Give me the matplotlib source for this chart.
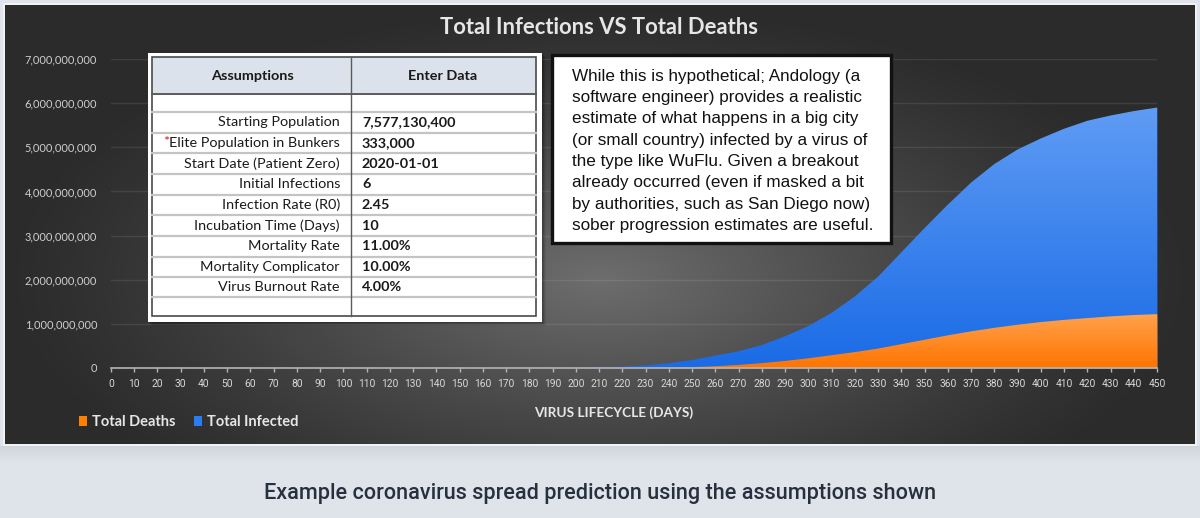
import numpy as np
import matplotlib
matplotlib.use('Agg')
import matplotlib.pyplot as plt
from matplotlib.patches import Rectangle, PathPatch
from matplotlib.colors import LinearSegmentedColormap

# ---------------- data ----------------
days = list(range(0, 451, 10))
total_infected_bn = [0, 0, 0, 0, 0, 0, 0, 0, 0, 0,
                     0, 0, 0, 0, 0, 0, 0, 0, 0, 0.002,
                     0.005, 0.012, 0.03, 0.06, 0.11, 0.18, 0.28, 0.38, 0.52, 0.72,
                     0.95, 1.25, 1.62, 2.07, 2.62, 3.17, 3.70, 4.20, 4.62, 4.95,
                     5.20, 5.42, 5.60, 5.72, 5.82, 5.90]
total_deaths_bn = [0, 0, 0, 0, 0, 0, 0, 0, 0, 0,
                   0, 0, 0, 0, 0, 0, 0, 0, 0, 0,
                   0, 0, 0.002, 0.005, 0.01, 0.02, 0.04, 0.07, 0.11, 0.16,
                   0.22, 0.29, 0.36, 0.44, 0.54, 0.64, 0.74, 0.83, 0.91, 0.98,
                   1.04, 1.09, 1.13, 1.17, 1.20, 1.22]
y_ticks = [0, 1e9, 2e9, 3e9, 4e9, 5e9, 6e9, 7e9]
x_ticks = list(range(0, 451, 10))

table_labels = ["Starting Population", "Elite Population in Bunkers", "Start Date (Patient Zero)",
                "Initial Infections", "Infection Rate (R0)", "Incubation Time (Days)",
                "Mortality Rate", "Mortality Complicator", "Virus Burnout Rate"]
table_values = ["7,577,130,400", "333,000", "2020-01-01", "6", "2.45", "10",
                "11.00%", "10.00%", "4.00%"]
note_lines = ["While this is hypothetical; Andology (a",
              "software engineer) provides a realistic",
              "estimate of what happens in a big city",
              "(or small country) infected by a virus of",
              "the type like WuFlu. Given a breakout",
              "already occurred (even if masked a bit",
              "by authorities, such as San Diego now)",
              "sober progression estimates are useful."]

infected = np.array(total_infected_bn) * 1e9
deaths = np.array(total_deaths_bn) * 1e9

W, H = 1200, 518
fig = plt.figure(figsize=(12, 5.18), dpi=100)
fig.patch.set_facecolor('#dfe4ea')

def fx(px):
    return px / W

def fy(py):
    return 1 - py / H

# ---------------- background panel ----------------
bg = fig.add_axes([0, 0, 1, 1], zorder=0)
bg.set_xlim(0, W); bg.set_ylim(H, 0); bg.axis('off')
for i in range(16):
    a = 0.10 * (1 - i / 16)
    bg.add_patch(Rectangle((0, 446 + i), W, 1, facecolor='#4a5360', alpha=a, lw=0))
bg.add_patch(Rectangle((3, 3), 1194, 443, facecolor='#f2f2f2', lw=0))

pan = fig.add_axes([fx(5), fy(444), fx(1190), 439 / H], zorder=1)
pan.axis('off')
gx = np.linspace(-1, 1, 600)
gy = np.linspace(-1, 1, 260)
GX, GY = np.meshgrid(gx, gy)
r = np.sqrt((GX / 1.0) ** 2 + ((GY - 0.25) / 1.25) ** 2)
val = np.clip(1 - r, 0, 1) ** 1.2
c_out = np.array([0.17, 0.17, 0.17])
c_in = np.array([0.43, 0.43, 0.43])
img = c_out[None, None, :] + (c_in - c_out)[None, None, :] * val[:, :, None]
pan.imshow(img, aspect='auto', extent=[0, 1, 0, 1], origin='upper')
pan.set_xlim(0, 1); pan.set_ylim(0, 1)

# ---------------- main chart ----------------
ax = fig.add_axes([fx(111), fy(368), (1157 - 111) / W, (368 - 59) / H], zorder=3)
ax.set_facecolor('none')

def grad_fill(x, y, c_bot, c_top, z, label):
    poly = ax.fill_between(x, 0, y, color=c_bot, lw=0, zorder=z, label=label)
    cmap = LinearSegmentedColormap.from_list('g', [c_bot, c_top])
    grad = np.linspace(0, 1, 256).reshape(-1, 1)
    im = ax.imshow(grad, extent=[x[0], x[-1], 0, max(y)], origin='lower',
                   aspect='auto', cmap=cmap, zorder=z + 0.1, interpolation='bilinear')
    patch = PathPatch(poly.get_paths()[0], transform=ax.transData,
                      facecolor='none', edgecolor='none')
    im.set_clip_path(patch)
    return poly

grad_fill(days, infected, '#1a6be6', '#5f9cf4', 2, 'Total Infected')
grad_fill(days, deaths, '#ff7400', '#ffa24c', 4, 'Total Deaths')

ax.set_xlim(0, 450)
ax.set_ylim(0, 7e9)
ax.set_yticks(y_ticks)
ax.set_yticklabels([f"{int(v):,}" for v in y_ticks])
ax.set_xticks(x_ticks)
ax.set_xticklabels([str(v) for v in x_ticks])
ax.grid(axis='y', color='#ffffff', alpha=0.09, lw=1.0, zorder=1)
ax.set_axisbelow(True)
for s in ['top', 'right', 'left']:
    ax.spines[s].set_visible(False)
ax.spines['bottom'].set_color('#b4b4b4')
ax.spines['bottom'].set_linewidth(1.2)
ax.spines['bottom'].set_zorder(6)
ax.tick_params(axis='y', length=0, pad=10, labelsize=7.9, labelcolor='#cfcfcf')
ax.tick_params(axis='x', length=3, width=1, color='#b4b4b4', pad=5,
               labelsize=7.4, labelcolor='#d8d8d8')
for t in ax.get_yticklabels():
    t.set_fontfamily('Lato')
for t in ax.get_xticklabels():
    t.set_fontfamily('Roboto')

# ---------------- overlay ----------------
ov = fig.add_axes([0, 0, 1, 1], zorder=10)
ov.set_xlim(0, W); ov.set_ylim(H, 0); ov.axis('off')
ov.patch.set_alpha(0)

ov.text(599, 28, "Total Infections VS Total Deaths", ha='center', va='center',
        fontsize=15.8, fontweight='bold', color='#e6e6e6', family='Lato')
ov.text(614, 413, "VIRUS LIFECYCLE (DAYS)", ha='center', va='center',
        fontsize=9.8, fontweight='bold', color='#e6e6e6', family='Lato')

# legend
ov.add_patch(Rectangle((79, 416), 8, 10, facecolor='#ff8000', lw=0))
ov.text(92, 421.5, "Total Deaths", ha='left', va='center', fontsize=10.5,
        fontweight='bold', color='#e6e6e6', family='Lato')
ov.add_patch(Rectangle((194, 416), 8, 10, facecolor='#2a7cf2', lw=0))
ov.text(207, 421.5, "Total Infected", ha='left', va='center', fontsize=10.5,
        fontweight='bold', color='#e6e6e6', family='Lato')

# table
for i in range(6):
    ov.add_patch(Rectangle((148 + i * 0.8, 53 + i * 0.8), 394, 269, facecolor='black',
                           alpha=0.07, lw=0))
ov.add_patch(Rectangle((148, 53), 394, 269, facecolor='white', lw=0))
ov.add_patch(Rectangle((152, 57), 384, 36, facecolor='#dbe2ec', lw=0))
row_lines = [111.7, 132.7, 153.3, 174, 194.7, 215.3, 236, 256.7, 277.3, 297.3]
for yy in row_lines:
    ov.plot([152, 536], [yy, yy], color='#c4c4c4', lw=1.6)
ov.plot([152, 536], [93.5, 93.5], color='#5a5a5a', lw=1.4)
ov.plot([351, 351], [57, 316], color='#5a5a5a', lw=1.0)
ov.add_patch(Rectangle((152, 57), 384, 259, facecolor='none', edgecolor='#4a4a4a', lw=1.2))
ov.text(252, 75.5, "Assumptions", ha='center', va='center', fontsize=10.4,
        fontweight='bold', color='#1a1a1a', family='Lato')
ov.text(443, 75.5, "Enter Data", ha='center', va='center', fontsize=10.4,
        fontweight='bold', color='#1a1a1a', family='Lato')
row_y = [122.3, 143, 163.7, 184.3, 205, 225.7, 246.3, 267, 287.3]
label_texts = []
for lab, v, yy in zip(table_labels, table_values, row_y):
    t = ov.text(340, yy, lab, ha='right', va='center', fontsize=10.4,
                color='#1a1a1a', family='Lato')
    label_texts.append(t)
    ov.text(362, yy, v, ha='left', va='center', fontsize=10.4, fontweight='bold',
            color='#1a1a1a', family='Lato')

# note box
ov.add_patch(Rectangle((552, 55), 339, 188, facecolor='white', edgecolor='#111111', lw=2.4))
for i, line in enumerate(note_lines):
    ov.text(572, 76 + i * 21.4, line, ha='left', va='center', fontsize=12.3,
            color='#111111', family='Liberation Sans')

# caption
ov.text(600, 493, "Example coronavirus spread prediction using the assumptions shown",
        ha='center', va='center', fontsize=15.6, color='#27303e',
        family='Roboto', fontweight='medium')

# red asterisk before "Elite..."
fig.canvas.draw()
bb = label_texts[1].get_window_extent()
inv = ov.transData.inverted()
x0, _ = inv.transform((bb.x0, bb.y0))
ov.text(x0 - 0.5, row_y[1] - 1, "*", ha='right', va='center', fontsize=10.4,
        color='#e01010', family='Lato')

fig.savefig('out.png', dpi=100, facecolor=fig.get_facecolor())
